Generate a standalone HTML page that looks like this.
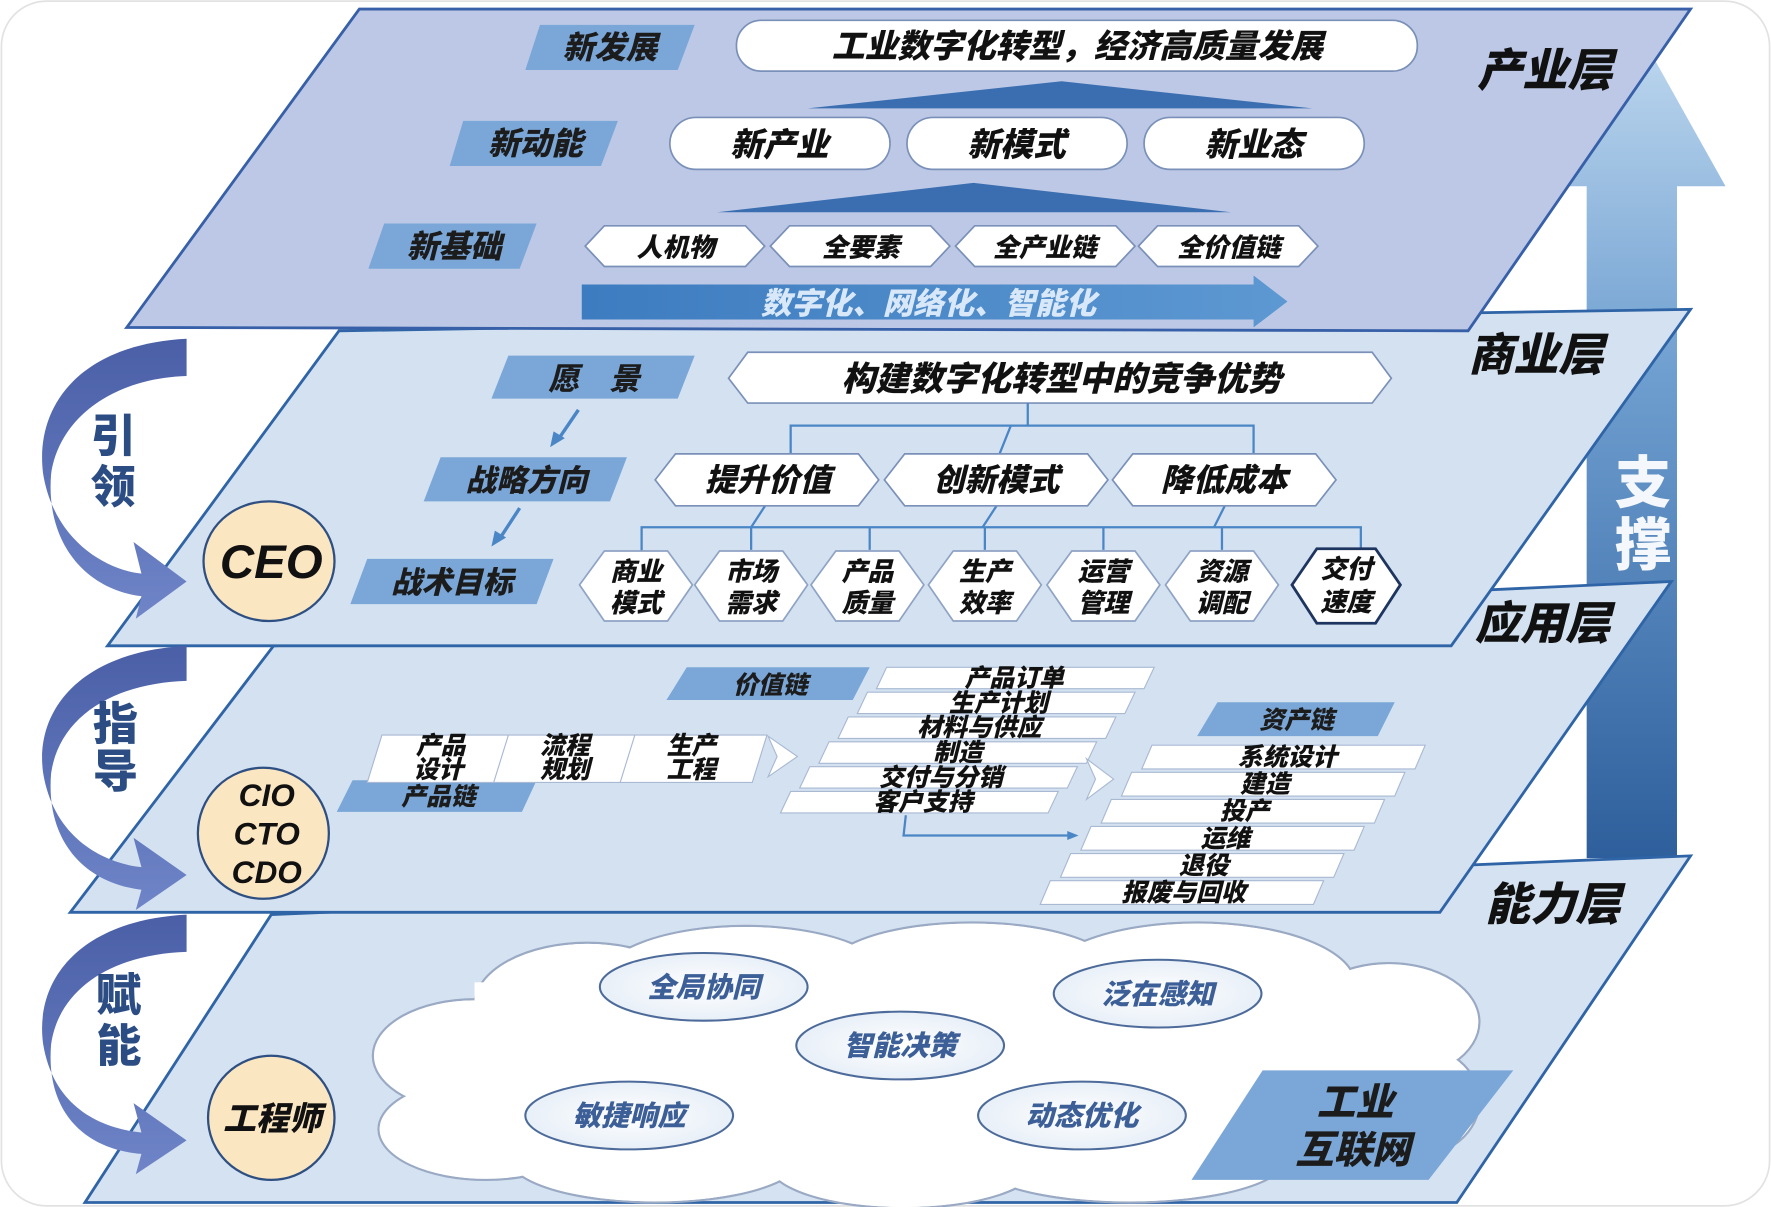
<!DOCTYPE html>
<html><head><meta charset="utf-8"><style>
html,body{margin:0;padding:0;background:#fff;}
svg{display:block;}
text{font-family:"Liberation Sans","Noto Sans CJK SC",sans-serif;font-weight:900;font-style:italic;}
.u{font-style:normal;}
</style></head><body>
<svg width="1771" height="1207" viewBox="0 0 1568 1069" xmlns="http://www.w3.org/2000/svg">
<defs>
<linearGradient id="up" x1="0" y1="0" x2="0" y2="1"><stop offset="0" stop-color="#bcd6ee"/><stop offset="0.4" stop-color="#6f9fd0"/><stop offset="1" stop-color="#2e5f9c"/></linearGradient>
<linearGradient id="cur" x1="0" y1="0" x2="0" y2="1"><stop offset="0" stop-color="#4a5fa6"/><stop offset="1" stop-color="#6f85c8"/></linearGradient>
<linearGradient id="band" x1="0" y1="0" x2="1" y2="0"><stop offset="0" stop-color="#3d7cc0"/><stop offset="1" stop-color="#5d98d2"/></linearGradient>
<radialGradient id="el" cx="0.5" cy="0.5" r="0.6"><stop offset="0" stop-color="#fff"/><stop offset="1" stop-color="#e3ecf6"/></radialGradient>
</defs>
<rect x="1" y="1" width="1566" height="1067" rx="40" fill="#fff" stroke="#e2e2e2" stroke-width="1.5"/>

<polygon points="1405,760 1405,165 1385,165 1458,40 1528,165 1485,165 1485,760" fill="url(#up)"/>
<text x="1455" y="445" font-size="50" fill="#f4f8fc" text-anchor="middle" class="u">支</text>
<text x="1455" y="500" font-size="50" fill="#f4f8fc" text-anchor="middle" class="u">撑</text>

<polygon points="240,810 1497,758 1290,1065 75,1065" fill="#d5e2f1" stroke="#2f64a6" stroke-width="2.5"/>
<polygon points="242,572 1480,515 1275,808 62,808" fill="#d3e1f1" stroke="#2f64a6" stroke-width="2.5"/>
<polygon points="300,293 1497,274 1285,572 95,572" fill="#d3e1f1" stroke="#2f64a6" stroke-width="2.5"/>
<polygon points="318,8 1497,8 1300,293 112,290" fill="#bcc8e6" stroke="#3760a8" stroke-width="2.5"/>

<text x="1368" y="76" font-size="40" fill="#111" text-anchor="middle">产业层</text>
<text x="1360" y="328" font-size="40" fill="#111" text-anchor="middle">商业层</text>
<text x="1366" y="566" font-size="40" fill="#111" text-anchor="middle">应用层</text>
<text x="1375" y="815" font-size="40" fill="#111" text-anchor="middle">能力层</text>

<g fill="url(#cur)">
<path d="M165,300 C70,305 30,360 38,420 C48,480 95,505 125,508 L118,480 L165,515 L120,548 L125,528 C75,522 40,480 45,420 C52,370 100,335 165,333 Z"/>
<path d="M165,572 C70,577 30,630 38,685 C48,745 95,765 125,768 L118,742 L165,775 L120,806 L125,788 C75,782 40,745 45,685 C52,635 100,605 165,603 Z"/>
<path d="M165,810 C70,815 30,868 38,925 C48,985 95,1000 125,1003 L118,977 L165,1010 L120,1040 L125,1022 C75,1018 40,985 45,925 C52,875 100,845 165,843 Z"/>
</g>
<g font-size="40" fill="#2b4d84" text-anchor="middle" class="u">
<text x="100" y="400" class="u">引</text><text x="100" y="445" class="u">领</text>
<text x="102" y="655" class="u">指</text><text x="102" y="697" class="u">导</text>
<text x="105" y="895" class="u">赋</text><text x="105" y="940" class="u">能</text>
</g>

<g fill="#7aa7d8">
<polygon points="478,22 615,22 600,62 465,62"/>
<polygon points="410,107 547,107 532,147 398,147"/>
<polygon points="340,198 475,198 460,238 326,238"/>
</g>
<g font-size="28" fill="#1c1c1c" text-anchor="middle">
<text x="540" y="52">新发展</text>
<text x="474" y="137">新动能</text>
<text x="402" y="228">新基础</text>
</g>
<rect x="652" y="18" width="603" height="45" rx="22" fill="#fff" stroke="#7a90b8" stroke-width="1.5"/>
<text x="954" y="51" font-size="29" fill="#111" text-anchor="middle">工业数字化转型，经济高质量发展</text>
<polygon points="715,96 1162,96 940,72" fill="#3a6eb0"/>
<g fill="#fff" stroke="#7a90b8" stroke-width="1.5">
<rect x="593" y="104" width="195" height="46" rx="23"/>
<rect x="803" y="104" width="195" height="46" rx="23"/>
<rect x="1013" y="104" width="195" height="46" rx="23"/>
</g>
<g font-size="29" fill="#111" text-anchor="middle">
<text x="690" y="138">新产业</text><text x="900" y="138">新模式</text><text x="1110" y="138">新业态</text>
</g>
<polygon points="635,188 1090,188 862,162" fill="#3a6eb0"/>
<g fill="#fff" stroke="#7a90b8" stroke-width="1.5">
<polygon points="518,218 535,200 660,200 677,218 660,236 535,236"/>
<polygon points="682,218 699,200 824,200 841,218 824,236 699,236"/>
<polygon points="846,218 863,200 988,200 1005,218 988,236 863,236"/>
<polygon points="1008,218 1025,200 1150,200 1167,218 1150,236 1025,236"/>
</g>
<g font-size="23" fill="#111" text-anchor="middle">
<text x="598" y="227">人机物</text><text x="762" y="227">全要素</text><text x="925" y="227">全产业链</text><text x="1088" y="227">全价值链</text>
</g>
<polygon points="515,252 1110,252 1110,244 1140,267 1110,290 1110,283 515,283" fill="url(#band)"/>
<text x="822" y="278" font-size="27" fill="#d8e8f8" text-anchor="middle">数字化、网络化、智能化</text>

<g fill="#7aa7d8">
<polygon points="450,315 615,315 600,353 435,353"/>
<polygon points="390,405 555,405 540,444 375,444"/>
<polygon points="325,495 490,495 475,535 310,535"/>
</g>
<g font-size="27" fill="#1c1c1c" text-anchor="middle">
<text x="526" y="345">愿　景</text>
<text x="466" y="435">战略方向</text>
<text x="400" y="525">战术目标</text>
</g>
<polygon points="645,335 662,312 1215,312 1232,335 1215,357 662,357" fill="#fff" stroke="#7a90b8" stroke-width="1.5"/>
<text x="940" y="346" font-size="30" fill="#111" text-anchor="middle">构建数字化转型中的竞争优势</text>
<g stroke="#4a86c6" stroke-width="3" fill="#4a86c6">
<line x1="512" y1="363" x2="495" y2="388"/><polygon points="487,396 490,382 500,388" stroke="none"/>
<line x1="460" y1="450" x2="443" y2="476"/><polygon points="435,484 438,470 448,476" stroke="none"/>
</g>
<g stroke="#4a86c6" stroke-width="2" fill="none">
<polyline points="910,357 910,377"/>
<polyline points="700,402 700,377 1110,377 1110,402"/>
<polyline points="895,377 885,402"/>
<polyline points="568,490 568,467 1205,467 1205,490"/>
<line x1="678" y1="447" x2="665" y2="467"/><line x1="883" y1="447" x2="870" y2="467"/><line x1="1085" y1="447" x2="1075" y2="467"/>
<line x1="665" y1="467" x2="665" y2="487"/><line x1="770" y1="467" x2="770" y2="487"/><line x1="872" y1="467" x2="872" y2="487"/><line x1="977" y1="467" x2="977" y2="487"/><line x1="1082" y1="467" x2="1082" y2="487"/>
</g>
<g fill="#fff" stroke="#7a90b8" stroke-width="1.5">
<polygon points="580,425 598,402 760,402 778,425 760,448 598,448"/>
<polygon points="783,425 801,402 963,402 981,425 963,448 801,448"/>
<polygon points="985,425 1003,402 1165,402 1183,425 1165,448 1003,448"/>
</g>
<g font-size="28" fill="#111" text-anchor="middle">
<text x="680" y="435">提升价值</text><text x="882" y="435">创新模式</text><text x="1084" y="435">降低成本</text>
</g>
<g fill="#fff" stroke="#8fa3c4" stroke-width="1.5">
<polygon points="513,518 535,488 591,488 613,518 591,550 535,550"/>
<polygon points="615,518 637,488 693,488 715,518 693,550 637,550"/>
<polygon points="718,518 740,488 796,488 818,518 796,550 740,550"/>
<polygon points="822,518 844,488 900,488 922,518 900,550 844,550"/>
<polygon points="927,518 949,488 1005,488 1027,518 1005,550 949,550"/>
<polygon points="1032,518 1054,488 1110,488 1132,518 1110,550 1054,550"/>
</g>
<polygon points="1144,518 1166,486 1218,486 1240,518 1218,552 1166,552" fill="#fff" stroke="#1e3560" stroke-width="2.5"/>
<g font-size="23" fill="#111" text-anchor="middle">
<text x="563" y="514">商业</text><text x="563" y="542">模式</text>
<text x="665" y="514">市场</text><text x="665" y="542">需求</text>
<text x="768" y="514">产品</text><text x="768" y="542">质量</text>
<text x="872" y="514">生产</text><text x="872" y="542">效率</text>
<text x="977" y="514">运营</text><text x="977" y="542">管理</text>
<text x="1082" y="514">资源</text><text x="1082" y="542">调配</text>
<text x="1192" y="512">交付</text><text x="1192" y="541">速度</text>
</g>
<ellipse cx="238" cy="497" rx="58" ry="53" fill="#fbe6c2" stroke="#2e4f82" stroke-width="2"/>
<text x="240" y="512" font-size="42" fill="#111" text-anchor="middle" font-family="Liberation Sans">CEO</text>

<g fill="#7aa7d8">
<polygon points="608,591 770,591 755,620 590,620"/>
<polygon points="312,691 475,691 462,719 298,719"/>
<polygon points="1078,622 1235,622 1220,652 1060,652"/>
</g>
<g font-size="22" fill="#1c1c1c" text-anchor="middle">
<text x="682" y="614">价值链</text><text x="388" y="713">产品链</text><text x="1148" y="645">资产链</text>
</g>
<g fill="#fff" stroke="#a9b9d2" stroke-width="1">
<polygon points="785,591 1022,591 1013,610 776,610"/>
<polygon points="768,613 1005,613 996,632 759,632"/>
<polygon points="751,635 988,635 979,654 742,654"/>
<polygon points="734,657 971,657 962,676 725,676"/>
<polygon points="717,679 954,679 945,698 708,698"/>
<polygon points="700,701 937,701 928,720 691,720"/>
<polygon points="338,651 455,651 442,693 325,693"/>
<polygon points="450,651 567,651 554,693 437,693"/>
<polygon points="562,651 679,651 666,693 549,693"/>
<polygon points="680,652 706,670 680,688 688,670"/>
<polygon points="1020,660 1262,660 1253,681 1011,681"/>
<polygon points="1002,684 1244,684 1235,705 993,705"/>
<polygon points="984,708 1226,708 1217,729 975,729"/>
<polygon points="966,732 1208,732 1199,753 957,753"/>
<polygon points="948,756 1190,756 1181,777 939,777"/>
<polygon points="930,780 1172,780 1163,801 921,801"/>
<polygon points="962,672 986,690 962,708 970,690"/>
</g>
<g font-size="22" fill="#111" text-anchor="middle">
<text x="898" y="608">产品订单</text>
<text x="884" y="630">生产计划</text>
<text x="867" y="652">材料与供应</text>
<text x="848" y="674">制造</text>
<text x="833" y="696">交付与分销</text>
<text x="817" y="718">客户支持</text>
<text x="390" y="668">产品</text><text x="388" y="689">设计</text>
<text x="500" y="668">流程</text><text x="500" y="689">规划</text>
<text x="612" y="668">生产</text><text x="612" y="689">工程</text>
<text x="1140" y="678">系统设计</text>
<text x="1120" y="702">建造</text>
<text x="1102" y="726">投产</text>
<text x="1085" y="750">运维</text>
<text x="1066" y="774">退役</text>
<text x="1048" y="798">报废与回收</text>
</g>
<polyline points="802,722 800,740 948,740" fill="none" stroke="#4a86c6" stroke-width="2"/>
<polygon points="955,740 945,736 945,744" fill="#4a86c6"/>
<ellipse cx="233" cy="738" rx="58" ry="58" fill="#fbe6c2" stroke="#2e4f82" stroke-width="2"/>
<g font-size="28" fill="#111" text-anchor="middle" font-family="Liberation Sans">
<text x="236" y="714">CIO</text><text x="236" y="748">CTO</text><text x="236" y="782">CDO</text>
</g>

<g stroke="#9aaac4" stroke-width="2" fill="#fff">
<ellipse cx="420" cy="935" rx="90" ry="50"/>
<ellipse cx="520" cy="890" rx="100" ry="55"/>
<ellipse cx="660" cy="870" rx="130" ry="50"/>
<ellipse cx="860" cy="862" rx="130" ry="45"/>
<ellipse cx="1060" cy="872" rx="140" ry="55"/>
<ellipse cx="1230" cy="905" rx="80" ry="52"/>
<ellipse cx="1250" cy="975" rx="60" ry="50"/>
<ellipse cx="430" cy="1000" rx="95" ry="45"/>
<ellipse cx="580" cy="1025" rx="130" ry="40"/>
<ellipse cx="800" cy="1030" rx="120" ry="40"/>
<ellipse cx="1000" cy="1025" rx="140" ry="40"/>
</g>
<g fill="#fff">
<ellipse cx="420" cy="935" rx="89" ry="49"/>
<ellipse cx="520" cy="890" rx="99" ry="54"/>
<ellipse cx="660" cy="870" rx="129" ry="49"/>
<ellipse cx="860" cy="862" rx="129" ry="44"/>
<ellipse cx="1060" cy="872" rx="139" ry="54"/>
<ellipse cx="1230" cy="905" rx="79" ry="51"/>
<ellipse cx="1250" cy="975" rx="59" ry="49"/>
<ellipse cx="430" cy="1000" rx="94" ry="44"/>
<ellipse cx="580" cy="1025" rx="129" ry="39"/>
<ellipse cx="800" cy="1030" rx="119" ry="39"/>
<ellipse cx="1000" cy="1025" rx="139" ry="39"/>
<rect x="420" y="870" width="840" height="150"/>
</g>
<g fill="url(#el)" stroke="#4d6b9a" stroke-width="1.8">
<ellipse cx="623" cy="874" rx="92" ry="30"/>
<ellipse cx="1025" cy="880" rx="92" ry="30"/>
<ellipse cx="797" cy="926" rx="92" ry="30"/>
<ellipse cx="557" cy="988" rx="92" ry="30"/>
<ellipse cx="958" cy="988" rx="92" ry="30"/>
</g>
<g font-size="25" fill="#3d5f98" text-anchor="middle">
<text x="623" y="883">全局协同</text><text x="1025" y="889">泛在感知</text><text x="797" y="935">智能决策</text><text x="557" y="997">敏捷响应</text><text x="958" y="997">动态优化</text>
</g>
<polygon points="1118,948 1340,948 1265,1045 1055,1045" fill="#7aa7d8"/>
<g font-size="34" fill="#1c1c1c" text-anchor="middle">
<text x="1200" y="988">工业</text><text x="1198" y="1030">互联网</text>
</g>
<ellipse cx="240" cy="990" rx="56" ry="55" fill="#fbe6c2" stroke="#2e4f82" stroke-width="2"/>
<text x="241" y="1001" font-size="29" fill="#111" text-anchor="middle">工程师</text>
</svg>
</body></html>
